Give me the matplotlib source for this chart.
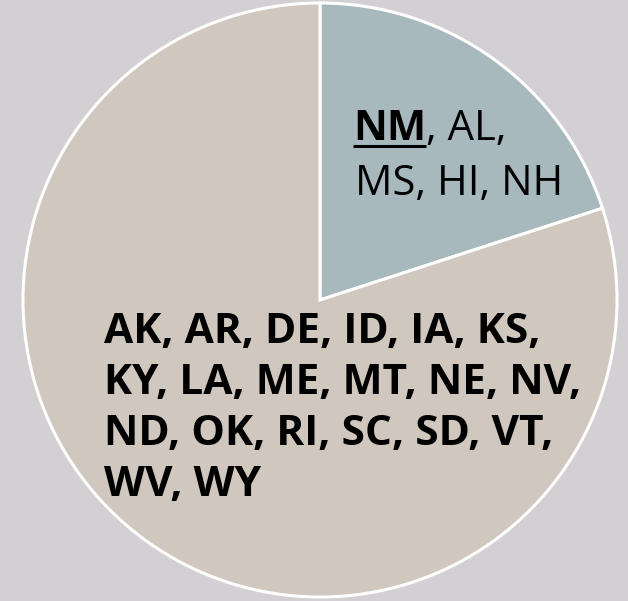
import matplotlib.pyplot as plt

# share of states in each group
shares = [20, 80]
colors = ["#A7B9BD", "#D0C7BE"]

small_first = "NM"
small_rest = ", AL,"
small_line2 = "MS, HI, NH"
big_lines = [
    "AK, AR, DE, ID, IA, KS,",
    "KY, LA, ME, MT, NE, NV,",
    "ND, OK, RI, SC, SD, VT,",
    "WV, WY",
]

plt.rcParams["font.family"] = ["Open Sans", "DejaVu Sans"]

fig = plt.figure(figsize=(6.28, 6.01), dpi=100, facecolor="#D2D0D2")
ax = fig.add_axes([0, 0, 1, 1])
ax.set_facecolor("#D2D0D2")

ax.pie(shares, colors=colors, startangle=90, counterclock=False, radius=297,
       wedgeprops=dict(edgecolor="white", linewidth=2.2))

# 1 data unit = 1 pixel, pie centre at (320, 300) from top-left
ax.set_xlim(-320, 308)
ax.set_ylim(-301, 300)
ax.set_aspect("equal")
ax.axis("off")

fs_small = 30
fs_big = 30.5
t_nm = ax.text(33, 300 - 140, small_first, fontsize=fs_small, fontweight="bold",
               va="baseline", ha="left")
fig.canvas.draw()
renderer = fig.canvas.get_renderer()
bb = t_nm.get_window_extent(renderer).transformed(ax.transData.inverted())
ax.text(bb.x1, 300 - 140, small_rest, fontsize=fs_small, va="baseline", ha="left")
ax.plot([bb.x0, bb.x1], [300 - 146, 300 - 146], color="black", lw=2.2,
        solid_capstyle="butt")
ax.text(35, 300 - 195, small_line2, fontsize=fs_small, va="baseline", ha="left")

for i, line in enumerate(big_lines):
    ax.text(-216, 300 - (343 + 51 * i), line, fontsize=fs_big, fontweight="bold",
            va="baseline", ha="left")

fig.savefig("out.png", dpi=100, facecolor=fig.get_facecolor())
